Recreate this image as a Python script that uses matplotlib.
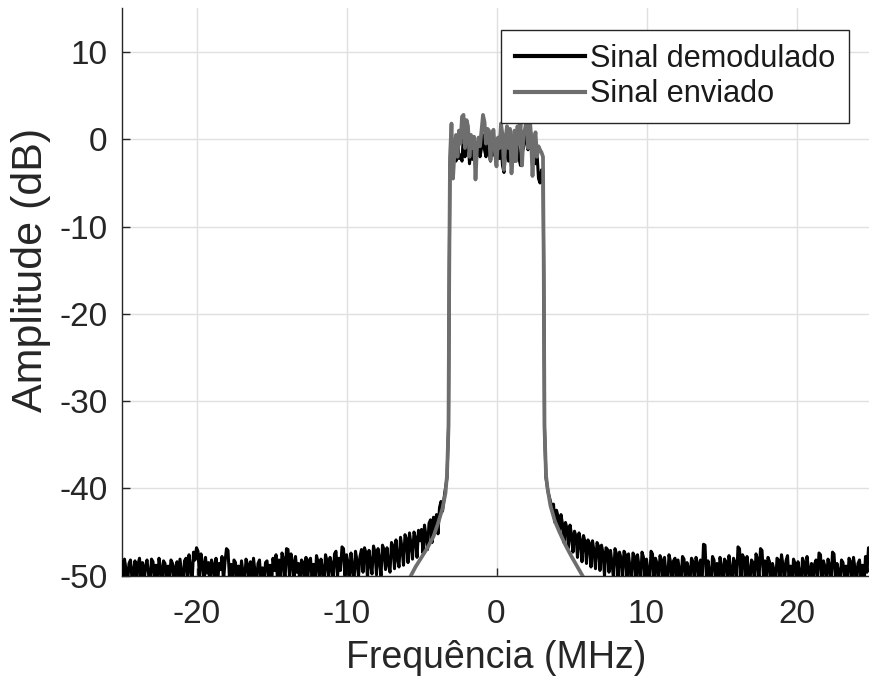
import numpy as np
import matplotlib
matplotlib.use("Agg")
import matplotlib.pyplot as plt

plt.rcParams['font.family'] = ['Liberation Sans', 'DejaVu Sans']
plt.rcParams['axes.unicode_minus'] = False

# ---------------- data ----------------
# Demodulated signal (black): noise floor left of band, f = -25.0 ... -3.6 MHz step 0.1
demod_left_noise = [
    -48.4, -50.6, -48.1, -49.3, -51.0, -48.6, -48.2, -50.4, -49.5, -48.3,
    -51.2, -48.7, -48.0, -50.1, -48.5, -51.0, -48.9, -48.2, -49.8, -51.3,
    -48.1, -48.4, -50.5, -48.8, -51.1, -48.0, -49.2, -50.7, -48.3, -48.6,
    -51.0, -48.9, -50.2, -48.2, -48.6, -51.3, -49.0, -48.4, -50.8, -48.1,
    -49.6, -51.2, -48.3, -48.0, -50.4, -47.6, -49.0, -51.0, -47.3, -48.2,
    -46.8, -47.2, -50.1, -47.5, -48.6, -51.0, -47.9, -49.7, -48.5, -51.2,
    -48.2, -48.8, -50.5, -48.0, -51.1, -48.6, -49.3, -47.8, -50.6, -48.4,
    -46.9, -47.1, -50.3, -48.7, -51.2, -48.2, -48.5, -50.9, -48.9, -51.0,
    -48.3, -49.6, -51.1, -48.1, -48.7, -50.4, -48.4, -51.3, -48.0, -49.5,
    -51.0, -48.6, -48.2, -50.7, -49.1, -51.2, -48.5, -48.3, -50.2, -48.8,
    -51.1, -48.0, -49.4, -47.6, -50.5, -48.2, -51.0, -47.4, -48.1, -50.6,
    -46.9, -47.0, -50.2, -47.5, -48.4, -51.0, -47.8, -49.6, -48.6, -51.3,
    -48.2, -48.5, -50.8, -47.9, -51.0, -48.3, -48.0, -50.4, -48.7, -51.1,
    -47.7, -48.4, -50.6, -48.1, -49.2, -51.0, -47.6, -48.3, -50.3, -47.9,
    -48.6, -51.0, -47.5, -47.2, -50.1, -48.0, -49.4, -46.7, -46.9, -50.0,
    -47.6, -48.5, -50.6, -47.4, -49.0, -50.8, -47.2, -48.3, -50.1, -47.8,
    -47.0, -49.6, -46.8, -47.4, -50.3, -47.1, -48.6, -49.8, -46.6, -47.3,
    -49.9, -46.9, -48.2, -50.0, -46.5, -47.0, -49.3, -46.8, -48.7, -49.6,
    -46.2, -46.6, -49.2, -45.9, -48.0, -49.0, -45.6, -46.8, -48.8, -45.3,
    -45.8, -48.5, -45.1, -46.4, -48.1, -45.0, -45.7, -47.9, -44.8, -46.0,
    -44.7, -47.4, -44.2, -45.5, -47.0, -44.0, -43.6, -46.2, -43.3, -44.8,
    -43.0, -45.2, -42.2, -41.5, -42.6,
]
# band edges (left / right) of the demodulated signal
demod_edge_left_f = [-3.45, -3.3, -3.2, -3.15, -3.1]
demod_edge_left = [-40.5, -38.8, -33.0, -15.0, -3.0]
demod_edge_right_f = [3.1, 3.15, 3.2, 3.3, 3.45]
demod_edge_right = [-3.5, -15.0, -33.0, -38.8, -40.5]
# in-band, f = -3.0 ... 3.0 MHz step 0.1
demod_band = [
    -0.5, -3.2, -1.0, -2.5, 0.0, -2.2, -1.8, -2.5, 0.8, -2.0,
    -0.5, 0.5, -2.8, -1.0, -2.3, -0.5, -3.0, -1.5, -0.5, -2.0,
    -1.0, 0.5, -1.2, -2.0, -0.3, -1.5, -2.5, -0.5, -1.8, -0.5,
    -2.5, -1.0, -2.2, -0.3, -3.0, -3.8, -1.5, -0.5, -2.5, -1.0,
    -3.2, -2.0, -2.5, -0.8, -0.5, -2.2, -3.0, -1.5, -1.0, -0.2,
    0.5, -1.2, 1.8, 0.5, -3.0, -1.5, -2.8, -1.5, -4.5, -5.0,
    -3.5,
]
# noise floor right of band, f = 3.6 ... 25.0 MHz step 0.1
demod_right_noise = [
    -41.5, -42.3, -41.8, -43.9, -42.5,
    -43.2, -45.0, -43.0, -44.1, -46.2, -43.9, -44.6, -46.8, -44.2, -45.3,
    -47.3, -44.9, -45.5, -47.9, -45.1, -46.0, -48.4, -45.4, -46.1, -48.6,
    -45.9, -46.3, -49.0, -46.0, -47.2, -49.2, -46.2, -46.6, -49.4, -46.5,
    -47.4, -50.0, -46.8, -47.0, -49.6, -47.1, -48.6, -50.3, -46.9, -47.5,
    -50.1, -47.3, -48.0, -50.5, -47.2, -47.6, -50.4, -47.5, -49.1, -50.8,
    -47.4, -47.8, -50.6, -47.6, -48.9, -51.0, -47.3, -47.9, -50.2, -48.1,
    -49.6, -51.1, -47.2, -47.5, -50.7, -48.0, -48.6, -51.2, -47.7, -48.2,
    -50.5, -47.9, -49.8, -51.0, -47.6, -48.4, -50.9, -48.3, -48.0, -51.3,
    -48.2, -49.5, -50.8, -47.8, -48.1, -51.0, -48.5, -49.2, -50.6, -48.0,
    -48.4, -51.2, -47.9, -48.6, -50.3, -48.2, -51.0, -46.4, -46.5, -50.4,
    -48.3, -49.6, -51.1, -47.8, -48.2, -50.5, -48.6, -51.2, -47.9, -49.0,
    -51.0, -48.1, -48.4, -50.6, -47.7, -49.3, -51.2, -48.0, -48.5, -50.8,
    -46.7, -46.9, -50.2, -47.6, -48.0, -51.0, -47.8, -49.5, -50.6, -48.2,
    -48.5, -51.1, -47.5, -48.1, -50.4, -46.9, -47.1, -50.2, -48.3, -51.0,
    -47.9, -48.4, -50.7, -48.6, -49.4, -51.2, -48.0, -48.2, -50.5, -47.6,
    -48.8, -51.0, -48.3, -47.7, -50.3, -48.9, -51.3, -48.1, -48.6, -50.6,
    -48.4, -49.7, -51.2, -48.0, -48.5, -50.9, -47.8, -49.3, -50.4, -48.6,
    -51.0, -48.7, -48.2, -50.6, -47.4, -47.6, -51.1, -48.3, -49.0, -50.5,
    -48.1, -48.8, -51.2, -47.3, -47.5, -50.4, -48.6, -49.5, -51.0, -48.2,
    -48.5, -50.3, -48.9, -51.1, -48.0, -48.4, -50.6, -47.9, -49.2, -51.0,
    -48.6, -48.2, -50.4, -48.8, -51.2, -47.8, -49.6, -46.8, -46.9, -49.3,
]

# Sent signal (gray)
sent_left_f = [-6.2, -5.8, -5.4, -5.0, -4.6, -4.2, -3.9, -3.6, -3.4, -3.3, -3.2, -3.15, -3.1]
sent_left = [-51.0, -50.3, -49.0, -47.9, -46.8, -45.5, -44.0, -42.3, -40.5, -38.5, -33.0, -15.0, -2.0]
# in-band, f = -3.0 ... 3.0 MHz step 0.1
sent_band = [
    1.8, -4.5, -1.5, 0.5, -2.0, 1.0, -0.5, 2.6, 2.8, -1.0,
    2.2, 1.5, -2.0, 0.5, -1.0, 0.3, -4.6, -1.0, 0.2, -0.8,
    1.0, 2.8, 2.0, -0.5, 1.2, 1.0, -2.4, 0.5, 1.1, -1.5,
    -3.1, 0.2, -1.0, 1.8, 0.5, -3.5, 0.0, 1.5, -1.0, 1.2,
    -3.9, -1.0, 1.0, -2.5, 1.5, -0.5, 1.8, -3.0, 0.5, 1.2,
    2.2, -1.0, 2.9, 0.5, -4.2, -0.5, 0.8, -2.0, -0.8, -1.2,
    -1.5,
]
sent_right_f = [3.1, 3.15, 3.2, 3.3, 3.4, 3.6, 3.9, 4.2, 4.6, 5.0, 5.4, 5.8, 6.2]
sent_right = [-2.0, -15.0, -33.0, -38.5, -40.0, -42.0, -43.8, -45.0, -46.5, -47.8, -49.0, -50.2, -51.2]

labels = ["Sinal demodulado", "Sinal enviado"]
xticks = [-20, -10, 0, 10, 20]
yticks = [-50, -40, -30, -20, -10, 0, 10]

# ---------------- assemble frequency axes ----------------
f_left = np.linspace(-25.0, -3.6, len(demod_left_noise))
f_band = np.linspace(-3.0, 3.0, len(demod_band))
f_right = np.linspace(3.6, 25.0, len(demod_right_noise))

f_demod = np.concatenate([f_left, demod_edge_left_f, f_band, demod_edge_right_f, f_right])
y_demod = np.concatenate([demod_left_noise, demod_edge_left, demod_band, demod_edge_right, demod_right_noise])
f_sent_band = np.linspace(-3.0, 3.0, len(sent_band))
f_sent = np.concatenate([sent_left_f, f_sent_band, sent_right_f])
y_sent = np.concatenate([sent_left, sent_band, sent_right])

# ---------------- figure ----------------
W, H = 869, 683
fig = plt.figure(figsize=(W / 100, H / 100), dpi=100)
ax = fig.add_axes([121.5 / W, (H - 575.7) / H, 750.0 / W, (575.7 - 8.4) / H])

ax.plot(f_demod, y_demod, color='black', lw=2.2, label=labels[0], zorder=3)
ax.plot(f_sent, y_sent, color='#6e6e6e', lw=2.7, label=labels[1], zorder=4)

ax.set_xlim(-25, 25)
ax.set_ylim(-50, 15)
ax.set_xticks(xticks)
ax.set_yticks(yticks)
ax.grid(True, color='#e0e0e0', lw=1.0)
ax.set_axisbelow(True)

for s in ['top', 'right']:
    ax.spines[s].set_visible(False)
for s in ['left', 'bottom']:
    ax.spines[s].set_color('#262626')
    ax.spines[s].set_linewidth(1.0)

ax.tick_params(direction='in', length=6, width=1.0, color='#262626',
               labelsize=24, labelcolor='#262626')
ax.tick_params(axis='y', pad=10)
ax.tick_params(axis='x', pad=17)

ax.set_xlabel("Frequência (MHz)", fontsize=27, color='#262626', labelpad=7)
ax.set_ylabel("Amplitude (dB)", fontsize=31, color='#262626')
ax.yaxis.set_label_coords(-0.094, 0.539)

leg = ax.legend(loc='upper right', bbox_to_anchor=(849 / W, 1 - 30 / H),
                bbox_transform=fig.transFigure, borderaxespad=0,
                fontsize=22.1, handlelength=2.3, handletextpad=0.15,
                labelspacing=0.18, borderpad=0.45, fancybox=False,
                framealpha=1, edgecolor='#262626')
leg.get_frame().set_linewidth(1.0)
for t in leg.get_texts():
    t.set_color('#1a1a1a')
for l in leg.get_lines():
    l.set_linewidth(3.0)

fig.savefig("out.png", dpi=100)
